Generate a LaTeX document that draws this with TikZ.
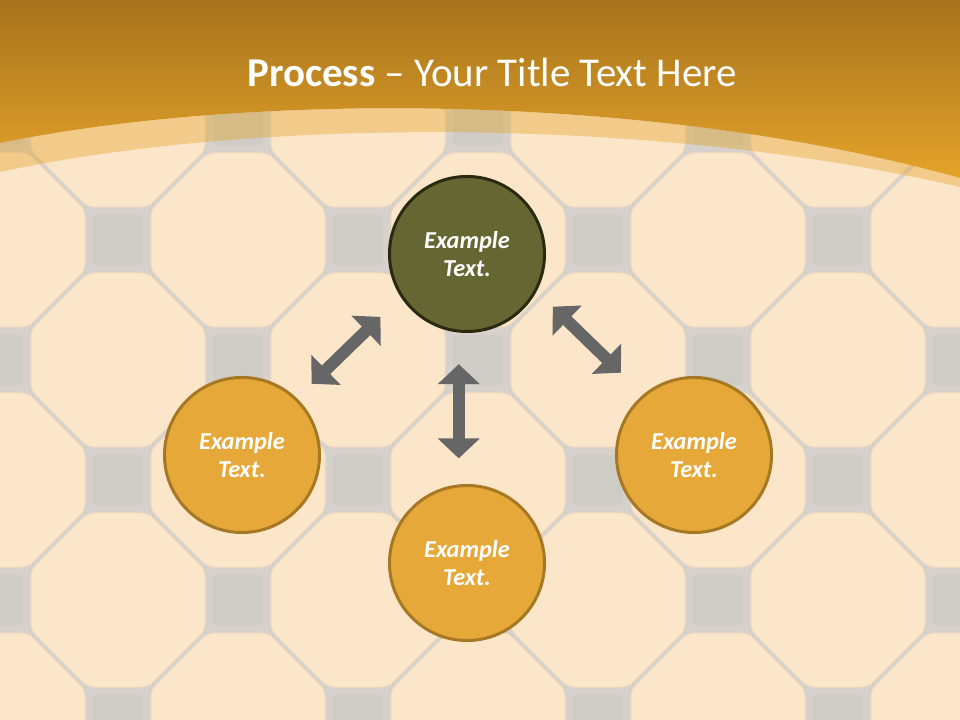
\documentclass[tikz,border=0pt]{standalone}
\usepackage{fontspec}
\setmainfont{Carlito}
\usetikzlibrary{arrows.meta}

\definecolor{tilepeach}{RGB}{252,230,202}
\definecolor{tileedge}{RGB}{242,220,193}
\definecolor{tilegrey}{RGB}{214,209,202}
\definecolor{squaregrey}{RGB}{207,203,197}
\definecolor{hdrtop}{RGB}{166,115,28}
\definecolor{hdrbottom}{RGB}{228,163,42}
\definecolor{olivefill}{RGB}{102,102,51}
\definecolor{olivedark}{RGB}{42,42,16}
\definecolor{goldfill}{RGB}{230,168,56}
\definecolor{golddark}{RGB}{166,120,35}
\definecolor{arrowgrey}{RGB}{102,102,102}

\begin{document}
\begin{tikzpicture}[
            x=0.025cm, y=-0.025cm,
            % Estilo dos ladrilhos do fundo
            tile/.style={
                fill=tilepeach,
                draw=tileedge,
                line width=0.025cm,
                rounded corners=0.15cm
            },
            octa/.pic={
                \path[tile] (87,30) -- (30,87) -- (-30,87) -- (-87,30)
                    -- (-87,-30) -- (-30,-87) -- (30,-87) -- (87,-30) -- cycle;
            },
            % Estilo dos círculos
            bubble/.style={
                circle,
                minimum size=3.875cm,
                inner sep=0pt,
                line width=0.075cm,
                text=white,
                align=center,
                font=\fontsize{17.3}{20.5}\selectfont\bfseries\itshape
            },
            mainbubble/.style={bubble, fill=olivefill, draw=olivedark},
            sidebubble/.style={bubble, fill=goldfill, draw=golddark},
            % Estilo das setas duplas
            signal/.style={
                draw=arrowgrey,
                line width=0.3cm,
                {Triangle[length=0.5cm, width=1.025cm]}-{Triangle[length=0.5cm, width=1.025cm]}
            }
        ]

            % Fundo de ladrilhos
            \useasboundingbox (0,0) rectangle (960,720);
            \fill[tilegrey] (0,0) rectangle (960,720);
            \foreach \x in {-2,238,...,958}
                \foreach \y in {0,240,...,720} {
                    \fill[squaregrey, shift={(\x+120,\y)}] (-25,-25) rectangle (25,25);
                    \fill[squaregrey, shift={(\x,\y+120)}] (-25,-25) rectangle (25,25);
                    \pic at (\x,\y) {octa};
                    \pic at (\x+120,\y+120) {octa};
                };

            % Faixa do título
            \shade[top color=hdrtop, bottom color=hdrbottom]
                (0,0) -- (960,0) -- (960,178) .. controls (650,92) and (250,92) .. (0,143) -- cycle;
            \fill[hdrbottom, opacity=0.4]
                (0,143) .. controls (250,92) and (650,92) .. (960,178)
                -- (960,187) .. controls (650,115) and (250,118) .. (0,172) -- cycle;

            \node[anchor=base, text=white, font=\fontsize{29.1}{34}\selectfont] (title) at (492,87)
                {\textbf{Process} -- Your Title Text Here};

            % Círculos
            \node[mainbubble] (hub) at (467,254) {Example\\Text.};
            \node[sidebubble] (leftstep) at (242,455) {Example\\Text.};
            \node[sidebubble] (rightstep) at (694,455) {Example\\Text.};
            \node[sidebubble] (lowstep) at (467,563) {Example\\Text.};

            % Setas entre os círculos
            \draw[signal, shorten <=0.515cm, shorten >=0.71cm] (leftstep.46) -- (hub.213);
            \draw[signal, shorten <=0.79cm, shorten >=0.65cm] (hub.264) -- (lowstep.96);
            \draw[signal, shorten <=0.56cm, shorten >=0.78cm] (hub.332) -- (rightstep.130);

        \end{tikzpicture}
\end{document}
